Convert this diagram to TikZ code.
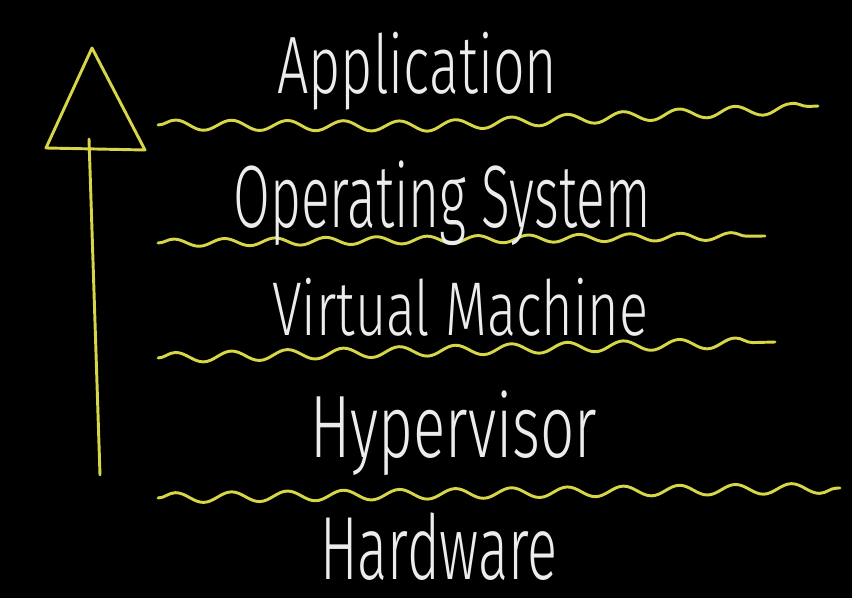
\documentclass[tikz,border=0pt]{standalone}
\usepackage{graphicx}
\usepackage{fontspec}
\newfontfamily\hand{Fira Sans Light}
\usetikzlibrary{decorations.pathmorphing}
\definecolor{chalkyellow}{RGB}{214,214,72}
\definecolor{chalkwhite}{RGB}{236,236,236}
\begin{document}
\begin{tikzpicture}[x=0.75pt,y=-0.75pt,
  wave/.style={chalkyellow, line width=2.2pt, line cap=round, line join=round,
    decorate, decoration={snake, segment length=42pt, amplitude=3.8pt}},
  yline/.style={chalkyellow, line width=2.2pt, line cap=round, line join=round},
  layertext/.style={text=chalkwhite, inner sep=0pt, anchor=base west, font=\hand}]
\fill[black] (0,0) rectangle (852,598);
\useasboundingbox (0,0) rectangle (852,598);

% arrow
\coordinate (shaftbot) at (100,475);
\coordinate (shafttop) at (89,139);
\coordinate (apex) at (92,48);
\coordinate (baseL) at (46,148);
\coordinate (baseR) at (145,150);
\draw[yline] (shaftbot) -- (shafttop);
\draw[yline] (apex) -- (baseL) -- (baseR) -- cycle;

% wavy separators
\coordinate (w1a) at (158,125);
\coordinate (w1b) at (400,126);
\coordinate (w1c) at (818,106);
\draw[wave] (w1a) -- (w1b) -- (w1c);

\coordinate (w2a) at (158,243);
\coordinate (w2b) at (765,236);
\draw[wave, decoration={snake, segment length=38pt, amplitude=2.8pt}] (w2a) -- (w2b);

\coordinate (w3a) at (158,358);
\coordinate (w3b) at (775,342);
\draw[wave] (w3a) -- (w3b);

\coordinate (w4a) at (158,498);
\coordinate (w4b) at (840,488);
\draw[wave] (w4a) -- (w4b);

% labels
\node[layertext] (app) at (277,94) {\resizebox{210pt}{46pt}{Application}};
\node[layertext] (os) at (233,228) {\resizebox{313pt}{50pt}{Operating System}};
\node[layertext] (vm) at (272,335) {\resizebox{282pt}{43pt}{Virtual Machine}};
\node[layertext] (hyp) at (310,457) {\resizebox{215pt}{50pt}{Hypervisor}};
\node[layertext] (hw) at (320,579) {\resizebox{178pt}{50pt}{Hardware}};
\end{tikzpicture}
\end{document}
